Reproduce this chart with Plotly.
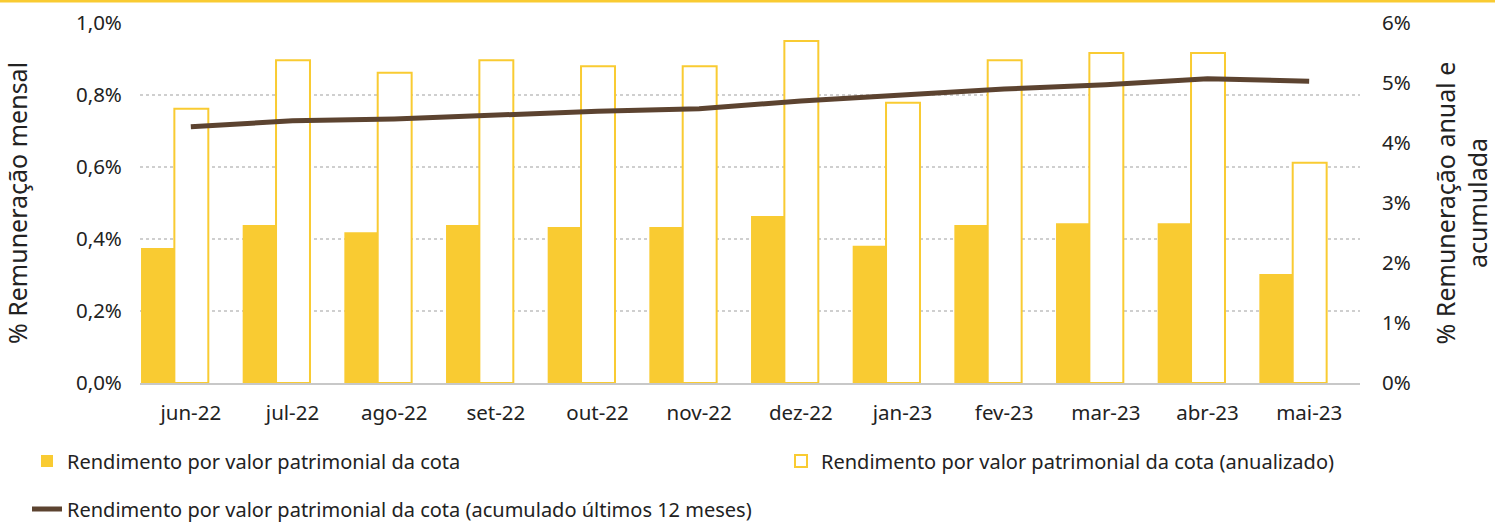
import plotly.graph_objects as go

months = ["jun-22", "jul-22", "ago-22", "set-22", "out-22", "nov-22",
          "dez-22", "jan-23", "fev-23", "mar-23", "abr-23", "mai-23"]
mensal = [0.375, 0.439, 0.419, 0.439, 0.433, 0.433, 0.464, 0.381, 0.439, 0.444, 0.444, 0.303]
anualizado = [4.57, 5.38, 5.17, 5.38, 5.28, 5.28, 5.70, 4.67, 5.38, 5.50, 5.50, 3.67]
acumulado = [4.27, 4.37, 4.40, 4.47, 4.53, 4.57, 4.70, 4.80, 4.90, 4.97, 5.07, 5.03]

YELLOW = "#F9CB32"
BROWN = "#5C4330"
FONT = "Noto Sans"
W, H = 1495, 522

fig = go.Figure()
fig.add_trace(go.Bar(
    x=months, y=mensal, name="Rendimento por valor patrimonial da cota",
    marker=dict(color=YELLOW, line=dict(width=0)), offset=-0.49, width=0.327,
    yaxis="y", legend="legend"))
fig.add_trace(go.Bar(
    x=months, y=anualizado, name="Rendimento por valor patrimonial da cota (anualizado)",
    marker=dict(color="white", line=dict(color=YELLOW, width=2)), offset=-0.162, width=0.334,
    yaxis="y2", legend="legend3"))
fig.add_trace(go.Scatter(
    x=months, y=acumulado, name="Rendimento por valor patrimonial da cota (acumulado últimos 12 meses)",
    mode="lines", line=dict(color=BROWN, width=5), yaxis="y2", legend="legend2"))

leg_common = dict(orientation="h", xref="container", yref="container", xanchor="left",
                  yanchor="middle", font=dict(size=20), bgcolor="rgba(0,0,0,0)")

fig.update_layout(
    width=W, height=H,
    showlegend=True,
    margin=dict(l=140, r=135, t=23, b=139, autoexpand=False),
    paper_bgcolor="white", plot_bgcolor="white",
    font=dict(family=FONT, size=20, color="#222222"),
    barmode="overlay",
    separators=",.",
    xaxis=dict(showgrid=False, ticks="outside", ticklen=10, tickcolor="rgba(0,0,0,0)",
               showline=True, linecolor="#C8C8C8", linewidth=2,
               tickfont=dict(size=20.5), automargin=False),
    yaxis=dict(range=[0, 1.0], dtick=0.2, tickformat=".1f", ticksuffix="%",
               ticks="outside", ticklen=13, tickcolor="rgba(0,0,0,0)",
               showgrid=True, gridcolor="#CFCFCF", griddash="dot", gridwidth=1.5,
               zeroline=False, showline=False, automargin=False, tickfont=dict(size=20.5),
               title=dict(text="% Remuneração mensal", font=dict(size=25), standoff=45)),
    yaxis2=dict(range=[0, 6], dtick=1, ticksuffix="%", overlaying="y", side="right",
                ticks="outside", ticklen=17, tickcolor="rgba(0,0,0,0)",
                showgrid=False, zeroline=False, showline=False, automargin=False,
                tickfont=dict(size=20.5),
                title=dict(text="% Remuneração anual e<br>acumulada", font=dict(size=25),
                           standoff=27)),
    legend=dict(x=27 / W, y=(H - 461) / H, **leg_common),
    legend3=dict(x=781 / W, y=(H - 461) / H, **leg_common),
    legend2=dict(x=27 / W, y=(H - 509) / H, **leg_common),
    shapes=[dict(type="line", xref="paper", yref="paper", x0=-0.2, x1=1.2,
                 y0=1 + 22 / 360, y1=1 + 22 / 360, line=dict(color=YELLOW, width=3))],
)

fig.write_html("out.html", config={"displayModeBar": False},
               post_script="document.body.style.margin='0';")
